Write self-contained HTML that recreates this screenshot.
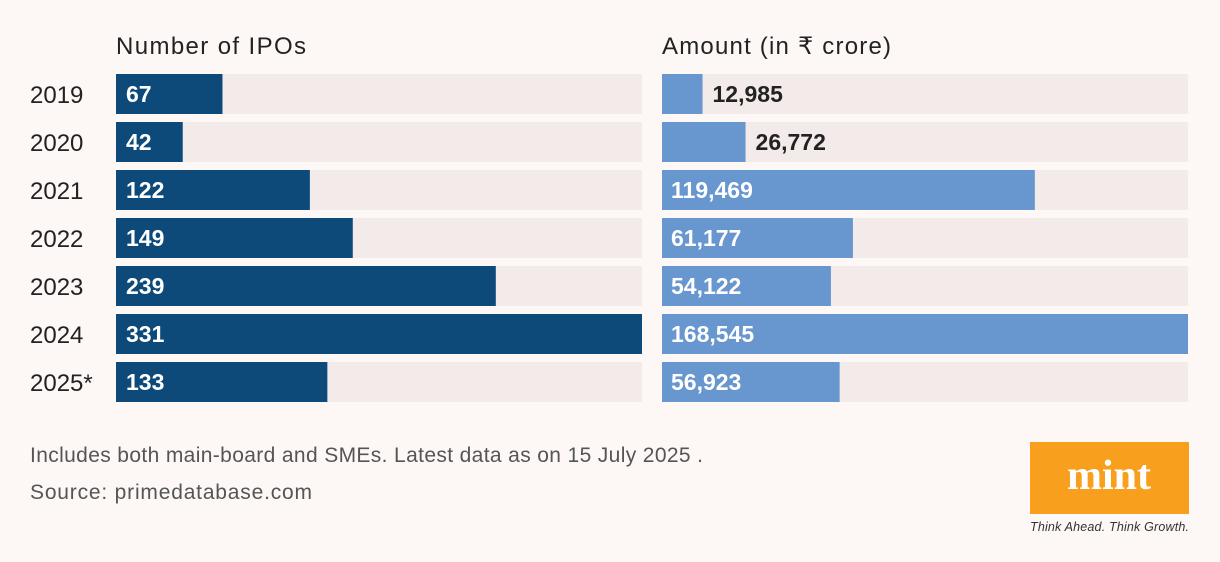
<!DOCTYPE html>
<html><head><meta charset="utf-8"><style>
body{margin:0;background:#fdf7f6;font-family:"Liberation Sans",sans-serif;}
svg{display:block}
</style></head><body>
<svg width="1220" height="562" viewBox="0 0 1220 562">
<rect width="1220" height="562" fill="#fdf7f6"/>
<text x="116" y="54" font-size="24" fill="#222" textLength="190">Number of IPOs</text>
<text x="662" y="54" font-size="24" fill="#222" textLength="229">Amount (in ₹ crore)</text>
<g id="rows"></g>
<text x="30" y="462" font-size="21" fill="#555" textLength="673">Includes both main-board and SMEs. Latest data as on 15 July 2025 .</text>
<text x="30" y="499" font-size="21" fill="#555" textLength="282">Source: primedatabase.com</text>
<rect x="1030" y="442" width="159" height="72" fill="#f8a01e"/>
<text x="1109" y="489" font-size="42" font-weight="bold" font-family="Liberation Serif,serif" fill="#fff" text-anchor="middle">mint</text>
<text x="1030" y="531" font-size="12.5" font-style="italic" fill="#333" textLength="159">Think Ahead. Think Growth.</text>
</svg>
<script>
const years=["2019","2020","2021","2022","2023","2024","2025*"];
const ipoCounts=[67,42,122,149,239,331,133];
const amounts=[12985,26772,119469,61177,54122,168545,56923];
const NS="http://www.w3.org/2000/svg";
const g=document.getElementById('rows');
const W=526,H=40,top0=74,step=48;
const xL=v=>v/Math.max(...ipoCounts)*W;
const xR=v=>v/Math.max(...amounts)*W;
function mk(t,a){const e=document.createElementNS(NS,t);for(const k in a)e.setAttribute(k,a[k]);g.appendChild(e);return e;}
years.forEach((y,i)=>{
 const yy=top0+i*step;
 let t=mk('text',{x:30,y:yy+29,'font-size':24,fill:'#222'});t.textContent=y;
 
 
 let r=mk('rect',{x:116,y:yy,width:W,height:H,fill:'#f2ebea'});
 
 
 r=mk('rect',{x:116,y:yy,width:xL(ipoCounts[i]),height:H,fill:'#0d4a7a'});
 
 
 t=mk('text',{x:126,y:yy+28,'font-size':23,'font-weight':'bold',fill:'#fff'});t.textContent=ipoCounts[i];
 
 
 r=mk('rect',{x:662,y:yy,width:W,height:H,fill:'#f2ebea'});
 
 
 const bw=xR(amounts[i]);
 r=mk('rect',{x:662,y:yy,width:bw,height:H,fill:'#6896cf'});
 
 
 const inside=bw>120;
 t=mk('text',{x:inside?671:662+bw+10,y:yy+28,'font-size':23,'font-weight':'bold',fill:inside?'#fff':'#222'});
 t.textContent=amounts[i].toLocaleString('en-US');
 
 
});
</script>
</body></html>
